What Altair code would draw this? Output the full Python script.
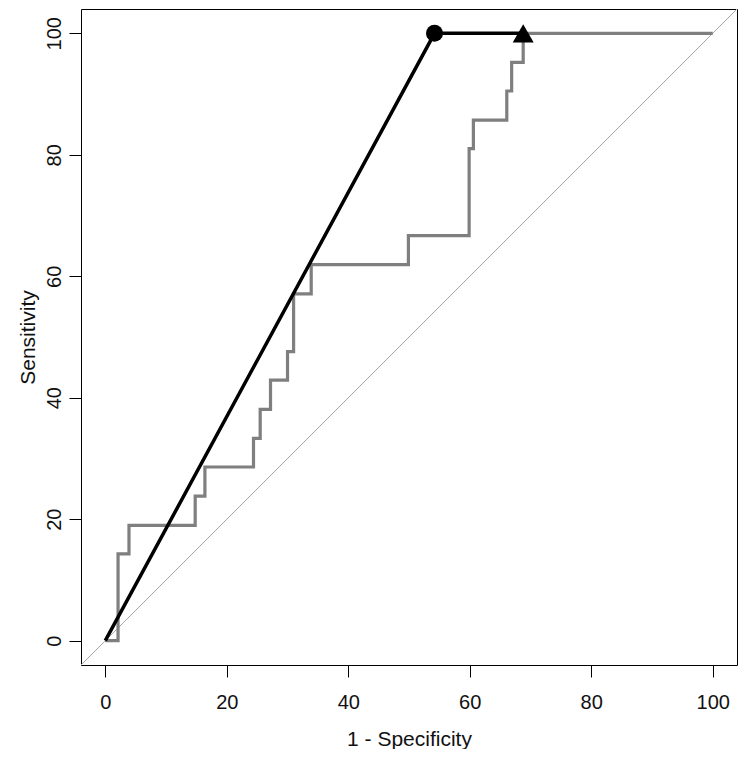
import altair as alt
import pandas as pd

# Empirical ROC curve (grey step line), in percent
emp_fpr = [0, 2.1, 2.1, 3.9, 3.9, 14.8, 14.8, 16.4, 16.4, 24.4, 24.4, 25.5, 25.5,
           27.2, 27.2, 30.0, 30.0, 31.0, 31.0, 33.9, 33.9, 49.9, 49.9, 59.9, 59.9,
           60.6, 60.6, 66.1, 66.1, 66.9, 66.9, 68.8, 68.8, 100]
emp_sens = [0, 0, 14.3, 14.3, 19.0, 19.0, 23.8, 23.8, 28.6, 28.6, 33.3, 33.3, 38.1,
            38.1, 42.9, 42.9, 47.6, 47.6, 57.1, 57.1, 61.9, 61.9, 66.7, 66.7, 81.0,
            81.0, 85.7, 85.7, 90.5, 90.5, 95.2, 95.2, 100, 100]

# Black line (model)
model_fpr = [0, 54.2, 68.8]
model_sens = [0, 100, 100]

# Markers
circle_fpr = [54.2]
circle_sens = [100]
tri_fpr = [68.8]
tri_sens = [100]

# Chance diagonal
diag_vals = [-4, 104]

ticks = [0, 20, 40, 60, 80, 100]

FONT = "Liberation Sans"

emp_df = pd.DataFrame({"x": emp_fpr, "y": emp_sens, "i": list(range(len(emp_fpr)))})
model_df = pd.DataFrame({"x": model_fpr, "y": model_sens, "i": list(range(len(model_fpr)))})
circ_df = pd.DataFrame({"x": circle_fpr, "y": circle_sens})
tri_df = pd.DataFrame({"x": tri_fpr, "y": tri_sens})
diag_df = pd.DataFrame({"x": diag_vals, "y": diag_vals, "i": [0, 1]})

xenc = alt.X(
    "x:Q",
    scale=alt.Scale(domain=[-4, 104], nice=False, zero=False),
    axis=alt.Axis(
        title="1 - Specificity",
        values=ticks,
        domain=False,
        grid=False,
        ticks=True,
        tickSize=12,
        tickColor="black",
        tickWidth=1,
        labelFont=FONT,
        labelFontSize=20,
        labelColor="#111",
        labelBaseline="alphabetic",
        labelPadding=31,
        labelFlush=False,
        titleFont=FONT,
        titleFontSize=21,
        titleFontWeight="normal",
        titleColor="#111",
        titleBaseline="alphabetic",
        titleY=80,
    ),
)
yenc = alt.Y(
    "y:Q",
    scale=alt.Scale(domain=[-4, 104], nice=False, zero=False),
    axis=alt.Axis(
        title="Sensitivity",
        values=ticks,
        domain=False,
        grid=False,
        ticks=True,
        tickSize=12,
        tickColor="black",
        tickWidth=1,
        labelFont=FONT,
        labelFontSize=20,
        labelColor="#111",
        labelAngle=270,
        labelAlign="center",
        labelBaseline="alphabetic",
        labelPadding=9,
        labelFlush=False,
        titleFont=FONT,
        titleFontSize=21,
        titleFontWeight="normal",
        titleColor="#111",
        titleAngle=270,
        titleAlign="center",
        titleBaseline="alphabetic",
        titleX=-47,
        titleY=328,
    ),
)

diag = alt.Chart(diag_df).mark_line(color="#aaaaaa", strokeWidth=1, clip=True).encode(
    x=xenc, y=yenc, order="i:Q"
)
emp = alt.Chart(emp_df).mark_line(color="#7f7f7f", strokeWidth=3.2, strokeJoin="miter").encode(
    x=xenc, y=yenc, order="i:Q"
)
model = alt.Chart(model_df).mark_line(color="black", strokeWidth=3.5).encode(
    x=xenc, y=yenc, order="i:Q"
)
circ = alt.Chart(circ_df).mark_point(shape="circle", filled=True, color="black", opacity=1, size=289).encode(
    x=xenc, y=yenc
)
tri = alt.Chart(tri_df).mark_point(shape="triangle-up", filled=True, color="black", opacity=1, size=441).encode(
    x=xenc, y=yenc
)

chart = (
    alt.layer(diag, emp, model, circ, tri)
    .properties(
        width=656,
        height=656,
        autosize=alt.AutoSizeParams(type="none"),
        padding={"left": 73, "top": 1, "right": 5, "bottom": 84},
        background="white",
    )
    .configure_view(stroke="black", strokeWidth=1)
)

chart.save("out.html", embed_options={"renderer": "svg", "actions": False})
